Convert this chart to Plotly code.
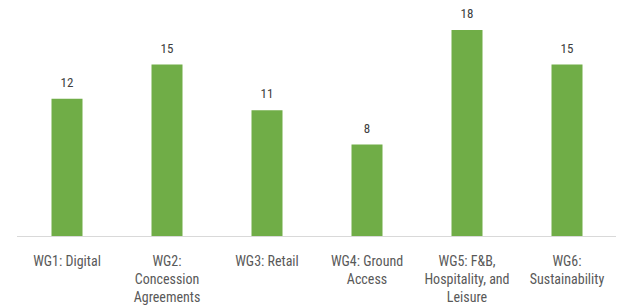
import plotly.graph_objects as go

categories = [
    "WG1: Digital",
    "WG2:<br>Concession<br>Agreements",
    "WG3: Retail",
    "WG4: Ground<br>Access",
    "WG5: F&B,<br>Hospitality, and<br>Leisure",
    "WG6:<br>Sustainability",
]
values = [12, 15, 11, 8, 18, 15]

FONT = "Roboto Condensed, Liberation Sans Narrow, Roboto"

fig = go.Figure()
fig.add_trace(
    go.Bar(
        x=categories,
        y=values,
        marker=dict(color="#70AD47", line=dict(width=0)),
        hoverinfo="x+y",
    )
)
fig.add_trace(
    go.Scatter(
        x=categories,
        y=values,
        mode="markers+text",
        marker=dict(size=12, opacity=0),
        text=[str(v) for v in values],
        textposition="top center",
        textfont=dict(family=FONT, size=13, color="#404040"),
        cliponaxis=False,
        hoverinfo="skip",
    )
)

fig.update_layout(
    width=616,
    height=299,
    margin=dict(l=9, r=7, t=10, b=71),
    paper_bgcolor="white",
    plot_bgcolor="white",
    bargap=0.69,
    showlegend=False,
    font=dict(family=FONT, size=13, color="#595959"),
)
fig.update_xaxes(
    showline=True,
    linecolor="#D9D9D9",
    linewidth=1,
    ticks="",
    showgrid=False,
    tickfont=dict(family=FONT, size=14, color="#595959"),
    ticklabelstandoff=12,
    automargin=False,
)
fig.update_yaxes(visible=False, range=[0, 19.06])

fig.write_html("out.html")
